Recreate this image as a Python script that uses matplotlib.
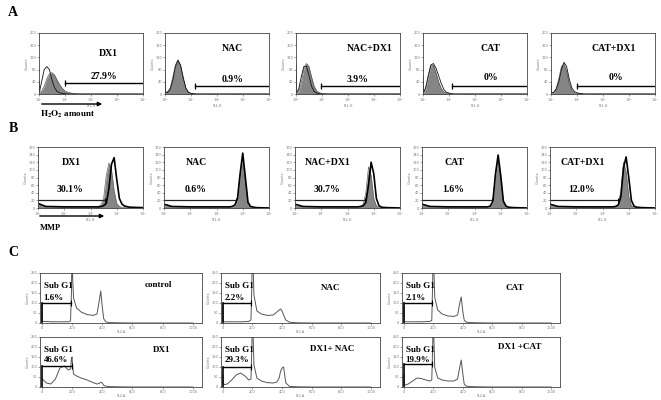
import numpy as np
import matplotlib.pyplot as plt
from matplotlib.patches import FancyArrowPatch

plt.rcParams['mathtext.fontset'] = 'stix'
SERIF = 'Liberation Serif'

# ---- panel A: H2O2 (DCF) histograms, x in log decades, counts 0-200
A_NAMES = ['DX1', 'NAC', 'NAC+DX1', 'CAT', 'CAT+DX1']
A_PCT = ['27.9%', '0.9%', '3.9%', '0%', '0%']
A_DEC = [0.0, 0.02, 0.1, 0.2, 0.3, 0.4, 0.5, 0.6, 0.7, 0.8, 0.9, 1.0,
         1.1, 1.2, 1.3, 1.4, 1.6, 2.0, 4.0]
A_CTRL = [
    [45, 8, 40, 80, 90, 80, 45, 20, 8, 4, 2, 1, 0, 0, 0, 0, 0, 0, 0],
    [70, 5, 5, 15, 45, 90, 110, 95, 55, 20, 6, 2, 1, 0, 0, 0, 0, 0, 0],
    [100, 5, 15, 55, 90, 92, 60, 25, 8, 3, 1, 0, 0, 0, 0, 0, 0, 0, 0],
    [60, 5, 20, 60, 95, 100, 85, 60, 35, 15, 6, 3, 1, 0, 0, 0, 0, 0, 0],
    [30, 3, 5, 15, 40, 80, 104, 90, 50, 20, 8, 4, 2, 1, 0, 0, 0, 0, 0],
]
A_TREAT = [
    [40, 5, 10, 25, 50, 66, 70, 62, 45, 30, 18, 10, 6, 4, 2, 1, 0, 0, 0],
    [45, 5, 8, 20, 55, 95, 112, 90, 50, 18, 5, 2, 1, 0, 0, 0, 0, 0, 0],
    [70, 4, 8, 35, 80, 100, 90, 55, 25, 10, 4, 2, 1, 0, 0, 0, 0, 0, 0],
    [50, 4, 15, 55, 92, 95, 70, 40, 18, 7, 3, 1, 0, 0, 0, 0, 0, 0, 0],
    [25, 3, 5, 18, 50, 90, 98, 75, 35, 12, 4, 2, 1, 0, 0, 0, 0, 0, 0],
]
A_GATE = [10.0, 14.0, 9.1, 12.6, 10.0]

# ---- panel B: MMP histograms, counts 0-160
B_NAMES = ['DX1', 'NAC', 'NAC+DX1', 'CAT', 'CAT+DX1']
B_PCT = ['30.1%', '0.6%', '30.7%', '1.6%', '12.0%']
B_DEC = [0.0, 0.3, 1.0, 2.0, 2.3, 2.4, 2.5, 2.6, 2.7, 2.8, 2.9, 3.0,
         3.1, 3.2, 3.3, 3.5, 4.0]
B_TREAT = [
    [12, 4, 3, 3, 3, 4, 6, 12, 50, 115, 132, 75, 25, 10, 5, 2, 1],
    [10, 4, 3, 3, 3, 3, 3, 4, 8, 25, 90, 144, 80, 15, 4, 1, 0],
    [10, 4, 3, 3, 3, 3, 4, 6, 15, 60, 120, 90, 25, 6, 2, 1, 0],
    [10, 4, 3, 3, 3, 3, 3, 5, 18, 90, 139, 85, 18, 5, 2, 1, 0],
    [10, 4, 3, 3, 3, 3, 4, 8, 30, 105, 134, 80, 20, 5, 2, 1, 0],
]
B_CTRL = [
    [8, 3, 2, 2, 4, 8, 25, 85, 118, 100, 45, 12, 4, 2, 1, 0, 0],
    [6, 3, 2, 2, 2, 2, 2, 3, 6, 20, 85, 135, 70, 12, 3, 1, 0],
    [6, 3, 2, 2, 2, 3, 4, 10, 40, 108, 85, 25, 6, 2, 1, 0, 0],
    [6, 3, 2, 2, 2, 2, 3, 4, 15, 85, 130, 75, 14, 4, 1, 0, 0],
    [6, 3, 2, 2, 2, 3, 4, 10, 45, 120, 95, 30, 6, 2, 1, 0, 0],
]
B_GATE = [355, 560, 450, 450, 400]

# ---- panel C: cell cycle (PI) histograms, FL2-A channel, counts 0-250
C_NAMES = [['control', 'NAC', 'CAT'], ['DX1', 'DX1+ NAC', 'DX1 +CAT']]
C_PCT = [['1.6%', '2.2%', '2.1%'], ['46.6%', '29.3%', '19.9%']]
C_CH = [0, 3, 10, 30, 60, 90, 120, 150, 175, 190, 196, 200, 204, 210, 230,
        260, 300, 340, 365, 380, 390, 400, 410, 425, 450, 500, 600, 800, 1000]
C_COUNTS = [
    [[90, 10, 8, 8, 6, 6, 6, 6, 6, 10, 150, 400, 225, 125, 75,
      55, 42, 38, 45, 110, 160, 80, 20, 5, 2, 1, 0, 0, 0],
     [80, 10, 6, 6, 6, 6, 6, 7, 8, 15, 200, 400, 300, 140, 60,
      45, 38, 40, 55, 65, 70, 60, 40, 15, 4, 1, 0, 0, 0],
     [80, 8, 6, 6, 6, 6, 6, 7, 8, 12, 200, 400, 280, 130, 65,
      45, 35, 33, 40, 100, 130, 60, 15, 4, 2, 1, 0, 0, 0]],
    [[45, 40, 35, 20, 15, 40, 95, 105, 85, 90, 140, 150, 100, 65, 55,
      45, 35, 22, 15, 18, 24, 20, 8, 4, 2, 1, 0, 0, 0],
     [60, 20, 12, 15, 35, 60, 70, 55, 35, 40, 200, 400, 280, 110, 45,
      30, 22, 20, 25, 45, 80, 95, 100, 20, 3, 1, 0, 0, 0],
     [60, 15, 10, 15, 30, 45, 42, 35, 30, 35, 200, 400, 250, 100, 45,
      35, 30, 30, 40, 100, 135, 70, 15, 4, 2, 1, 0, 0, 0]],
]
C_GATE_END = [[190, 190, 190], [200, 190, 190]]

W, H = 661, 400
fig = plt.figure(figsize=(6.61, 4.0), dpi=100)


def px_axes(left, top, right, bottom):
    return fig.add_axes([left / W, 1 - bottom / H,
                         (right - left) / W, (bottom - top) / H])


def style(ax, xlab):
    for s in ax.spines.values():
        s.set_linewidth(0.6)
        s.set_color('#444')
    ax.tick_params(labelsize=2.5, labelcolor='#777', length=1.5,
                   width=0.4, pad=0.5, color='#555')
    ax.tick_params(which='minor', length=1, width=0.3)
    ax.set_xlabel(xlab, fontsize=2.3, labelpad=0, color='#777')
    ax.set_ylabel('Counts', fontsize=2.5, labelpad=0.5, color='#777')


def bold(ax, x, y, s, size=7, ha='center', trans=None):
    ax.text(x, y, s, fontsize=size, fontweight='bold', family=SERIF,
            ha=ha, va='center', transform=trans or ax.get_xaxis_transform())


A_LEFT = [39, 165, 296, 423, 551]
A_LAB = [(2.65, 0.67), (2.6, 0.74), (2.85, 0.75), (2.6, 0.74), (2.4, 0.74)]
A_PCTPOS = [(2.5, 0.28), (2.6, 0.24), (2.35, 0.23), (2.6, 0.27), (2.5, 0.27)]
A_GY = [36, 26, 26, 26, 26]

xa = 10 ** np.array(A_DEC)
for i in range(5):
    ax = px_axes(A_LEFT[i], 33, A_LEFT[i] + 104, 94)
    ax.fill_between(xa, A_TREAT[i], color='#858585', lw=0)
    ax.plot(xa, A_TREAT[i], color='#555', lw=0.5)
    ax.plot(xa, A_CTRL[i], color='#111', lw=0.6)
    ax.plot([A_GATE[i], 1e4], [A_GY[i], A_GY[i]], color='k', lw=1)
    ax.plot([A_GATE[i]], [A_GY[i]], marker='|', ms=5, mew=0.9, color='k')
    ax.set_xscale('log')
    ax.set_xlim(1, 1e4)
    ax.set_ylim(0, 200)
    ax.set_yticks([0, 40, 80, 120, 160, 200])
    style(ax, 'FL1-H')
    bold(ax, 10 ** A_LAB[i][0], A_LAB[i][1], A_NAMES[i])
    bold(ax, 10 ** A_PCTPOS[i][0], A_PCTPOS[i][1], A_PCT[i])

xb = 10 ** np.array(B_DEC)
for i in range(5):
    ax = px_axes(A_LEFT[i] - 1, 147, A_LEFT[i] + 104, 208)
    ax.fill_between(xb, B_CTRL[i], color='#858585', lw=0)
    ax.plot(xb, B_CTRL[i], color='#666', lw=0.5)
    ax.plot(xb, B_TREAT[i], color='k', lw=1.2)
    ax.plot([1, B_GATE[i]], [21, 21], color='#222', lw=0.9)
    ax.plot([B_GATE[i]], [21], marker='|', ms=3, mew=0.7, color='k')
    ax.set_xscale('log')
    ax.set_xlim(1, 1e4)
    ax.set_ylim(0, 160)
    ax.set_yticks(range(0, 161, 20))
    style(ax, 'FL1-H')
    bold(ax, 10 ** 1.25, 0.75, B_NAMES[i])
    bold(ax, 10 ** 1.2, 0.3, B_PCT[i])

C_LEFT = [40, 221, 402]
C_RIGHT = [202, 380, 560]
C_TOP = [273, 337]
C_BOT = [323, 387]
C_LAB = [[(770, 0.76), (730, 0.71), (755, 0.71)],
         [(795, 0.74), (735, 0.76), (790, 0.8)]]
C_PCTY = [[0.5, 0.5, 0.5], [0.53, 0.55, 0.55]]
C_GY = [[100, 100, 100], [107, 100, 115]]

for r in range(2):
    for c in range(3):
        ax = px_axes(C_LEFT[c], C_TOP[r], C_RIGHT[c], C_BOT[r])
        ax.plot(C_CH, C_COUNTS[r][c], color='#555', lw=0.7)
        ax.plot([0, 0], [0, C_GY[r][c]], color='k', lw=1.2)
        g = C_GATE_END[r][c]
        ax.plot([0, g], [C_GY[r][c], C_GY[r][c]], color='k', lw=1)
        ax.plot([g], [C_GY[r][c]], marker='|', ms=4, mew=0.8, color='k')
        ax.set_xlim(-12, 1060)
        ax.set_ylim(0, 250)
        ax.set_xticks([0, 200, 400, 600, 800, 1000])
        ax.set_yticks([0, 50, 100, 150, 200, 250])
        style(ax, 'FL2-A')
        bold(ax, 12, 0.74, 'Sub G1', size=6.5, ha='left')
        bold(ax, 12, C_PCTY[r][c], C_PCT[r][c], size=6.5, ha='left')
        bold(ax, *C_LAB[r][c], C_NAMES[r][c], size=6.5)

for lab, y in [('A', 13), ('B', 129), ('C', 253)]:
    fig.text(13 / W, 1 - y / H, lab, fontsize=10, fontweight='bold',
             family=SERIF, ha='center', va='center')

for x0, x1, y in [(39, 105, 104), (37, 107, 216)]:
    fig.add_artist(FancyArrowPatch((x0 / W, 1 - y / H), (x1 / W, 1 - y / H),
                                   transform=fig.transFigure, arrowstyle='-|>',
                                   mutation_scale=6, lw=1, color='k'))
fig.text(40 / W, 1 - 114 / H, r'$\mathbf{H_2O_2}$ amount', fontsize=6.5,
         fontweight='bold', family=SERIF, ha='left', va='center')
fig.text(40 / W, 1 - 228 / H, 'MMP', fontsize=6, fontweight='bold',
         family=SERIF, ha='left', va='center')

fig.savefig('out.png', dpi=100)
